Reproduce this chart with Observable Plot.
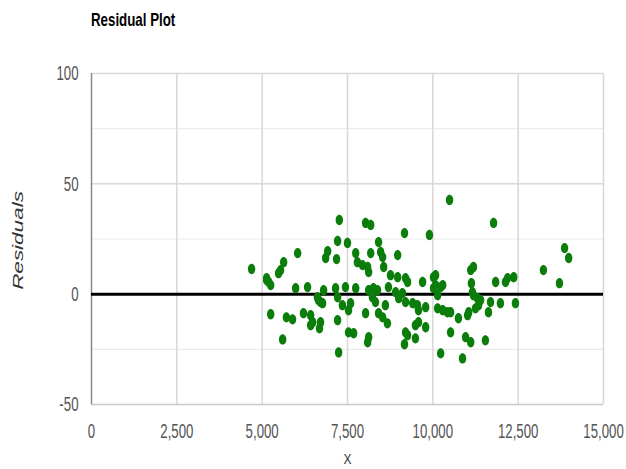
<!DOCTYPE html>
<html>
<head>
<meta charset="utf-8">
<script src="https://cdn.jsdelivr.net/npm/d3@7"></script>
<script src="https://cdn.jsdelivr.net/npm/@observablehq/plot@0.6"></script>
<style>
  html, body { margin: 0; padding: 0; background: #fff; width: 626px; height: 469px; overflow: hidden; }
  #title { height: 40px; position: relative; }
  #title span { position: absolute; left: 91px; top: 9px; font-family: "Liberation Sans", Arial, sans-serif; font-weight: bold; font-size: 19px; color: #000; transform: scaleX(0.7); transform-origin: left center; white-space: nowrap; }
  svg { overflow: visible; }
</style>
</head>
<body>
<div id="title"><span id="titleText"></span></div>
<div id="chart"></div>
<script>
const titleText = "Residual Plot";
const yLabel = "Residuals";
const xLabel = "X";

const xValues = [
  4690, 5130, 5190, 5250, 5130, 5540, 5630, 5480, 6040, 5980, 6330, 5250, 5710, 5890, 6210, 6420, 6480, 6420, 5600,
  6620, 6710, 6800, 6770, 6650, 6710, 6680, 6860, 6920, 7180, 7210, 7260, 7150, 7210, 7210, 7240, 7500, 8030, 8180,
  9170, 9900, 8410, 8470, 8180, 7740, 7790, 7940, 8090, 8120, 8530, 8560, 8970, 8760, 8970, 9200, 9260, 9700, 7440,
  7740, 8120, 8260, 8380, 8700, 8910, 9110, 7350, 7590, 7530, 8230, 8320, 8410, 8530, 8670, 8610, 9000, 9200, 9410,
  9550, 9580, 9790, 8030, 7530, 7680, 8120, 8090, 9200, 9260, 9490, 9580, 9790, 9490, 9170, 10490, 11780, 10080,
  10080, 10020, 10290, 10140, 11110, 11190, 11130, 11160, 11190, 11310, 11400, 11340, 11250, 11840, 12130, 12190,
  12370, 12420, 11980, 11690, 11630, 10140, 10290, 10430, 10520, 10750, 11020, 11050, 10520, 10960, 11110, 11540,
  10230, 10870, 13860, 13980, 13240, 13710, 10020, 10230
];
const residuals = [
  11.4, 7.3, 5.5, 4.1, 6.4, 10.9, 14.5, 9.5, 18.6, 2.7, 3.2, -9.1, -10.5, -11.4, -8.6, -9.5, -12.7, -14.1, -20.5,
  -1.4, -3.6, 1.8, -4.1, -2.7, -12.7, -15.5, 16.4, 19.5, 15.9, 24.1, 33.6, 2.7, -1.4, -11.8, -26.4, 23.2, 32.3, 31.4,
  27.7, 26.8, 23.6, 19.1, 18.6, 18.6, 14.5, 13.2, 12.3, 10.0, 16.8, 12.3, 17.7, 8.6, 7.7, 7.3, 5.5, 5.5, 3.2,
  2.7, 1.8, 2.7, 1.8, 3.2, 0.9, 0.5, -5.0, -4.1, -7.3, -1.4, -3.6, -8.6, -10.5, -13.2, -5.0, -1.8, -3.6, -4.1,
  -5.0, -7.3, -5.9, -8.6, -17.3, -17.7, -19.5, -21.8, -17.3, -18.6, -14.1, -12.7, -15.0, -20.0, -22.7, 42.7, 32.3, 8.6,
  4.1, 2.7, 4.1, -0.5, 10.9, 12.3, 5.0, 0.9, -0.5, -1.8, -2.7, -5.0, -6.4, 5.5, 5.5, 7.3,
  7.7, -4.1, -4.1, -3.6, -8.2, -6.4, -7.3, -8.2, -8.2, -10.9, -9.5, -8.2, -17.3, -19.5, -21.8, -20.9,
  -26.8, -29.1, 20.9, 16.4, 10.9, 5.0, 7.7, 3.2
];

const xTicks = [0, 2500, 5000, 7500, 10000, 12500, 15000];
const yTicks = [-50, 0, 50, 100];
const yMinorGrid = [-25, 25, 75];
const yMajorGrid = [50, 100];
const xGrid = [2500, 5000, 7500, 10000, 12500, 15000];

document.getElementById("titleText").textContent = titleText;

const points = xValues.map((x, i) => ({x, y: residuals[i]}));

// slightly tall elliptical dot symbol (reference dots are taller than wide)
const tallDot = {
  draw(context, size) {
    const r = Math.sqrt(size / Math.PI);
    const rx = r * 0.86, ry = r * 1.2, k = 0.5523;
    context.moveTo(rx, 0);
    context.bezierCurveTo(rx, ry * k, rx * k, ry, 0, ry);
    context.bezierCurveTo(-rx * k, ry, -rx, ry * k, -rx, 0);
    context.bezierCurveTo(-rx, -ry * k, -rx * k, -ry, 0, -ry);
    context.bezierCurveTo(rx * k, -ry, rx, -ry * k, rx, 0);
    context.closePath();
  }
};

const font = '"Liberation Sans", Arial, sans-serif';

const chart = Plot.plot({
  width: 626,
  height: 429,
  marginLeft: 91,
  marginRight: 23,
  marginTop: 33,
  marginBottom: 65,
  style: {fontFamily: font, fontSize: "21px", color: "#555", background: "#fff", overflow: "visible"},
  x: {domain: [0, 15000], ticks: xTicks, tickFormat: d3.format(","), label: null},
  y: {domain: [-50, 100], ticks: yTicks, label: null},
  marks: [
    Plot.ruleY(yMinorGrid, {stroke: "#ebebeb", strokeWidth: 1.2}),
    Plot.ruleY(yMajorGrid, {stroke: "#d8d8d8", strokeWidth: 1.5}),
    Plot.ruleX(xGrid, {stroke: "#d8d8d8", strokeWidth: 1.5}),
    Plot.ruleY([-50], {stroke: "#c8c8c8", strokeWidth: 1.5}),
    Plot.ruleX([0], {stroke: "#8a8a8a", strokeWidth: 1.5}),
    Plot.axisX({ticks: xTicks, tickFormat: d3.format(","), tickSize: 0, tickPadding: 19, label: null, fontSize: 21, fill: "#555"}),
    Plot.axisY({ticks: yTicks, tickFormat: d => String(d), tickSize: 0, tickPadding: 13, label: null, fontSize: 21, fill: "#555"}),
    Plot.ruleY([0], {stroke: "#000", strokeWidth: 3}),
    Plot.dot(points, {x: "x", y: "y", r: 4.3, symbol: tallDot, fill: "#0a7d0a", stroke: "none"}),
    Plot.text([yLabel], {frameAnchor: "left", dx: -73.5, dy: 1.5, rotate: -90, textAnchor: "middle", lineAnchor: "middle", text: d => d, fontFamily: font, fontStyle: "italic", fontSize: 15, fill: "#333"}),
    Plot.text([xLabel], {frameAnchor: "bottom", dy: 59, textAnchor: "middle", lineAnchor: "bottom", text: d => d, fontFamily: font, fontSize: 15, fill: "#333"})
  ]
});

// condense text horizontally (reference uses a narrow, tall typeface)
function condense(nodes, sx, sy) {
  nodes.forEach(t => {
    const tr = t.getAttribute("transform") || "";
    t.setAttribute("transform", `${tr} scale(${sx},${sy})`);
  });
}
condense(chart.querySelectorAll('g[aria-label="x-axis tick label"] text'), 0.63, 1);
condense(chart.querySelectorAll('g[aria-label="y-axis tick label"] text'), 0.63, 1);
const allText = Array.from(chart.querySelectorAll("text"));
condense(allText.filter(t => t.textContent === yLabel), 1.5, 1);
condense(allText.filter(t => t.textContent === xLabel), 0.8, 1);

document.getElementById("chart").appendChild(chart);
</script>
</body>
</html>
